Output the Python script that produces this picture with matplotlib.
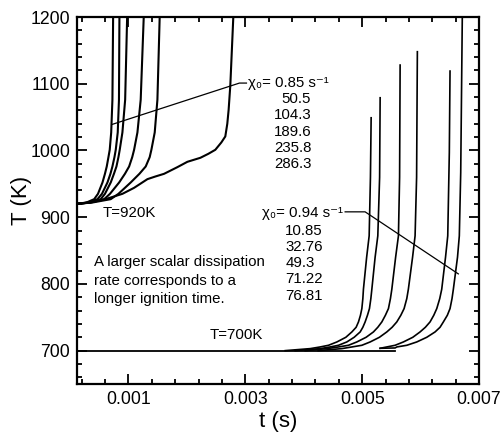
import numpy as np
import matplotlib

matplotlib.use("Agg")
import matplotlib.pyplot as plt
from matplotlib.ticker import FixedLocator, NullFormatter

plt.rcParams["font.family"] = ["Liberation Sans", "DejaVu Sans"]

# T0 = 920 K: ignition histories for chi0 = 0.85, 50.5, 104.3, 189.6, 235.8 1/s
hot_T = [920, 922, 927, 935, 952, 965, 976, 990, 1001, 1027, 1076, 1200]
hot_t_085 = [0.00012, 0.000282, 0.000414, 0.000479, 0.000556, 0.000598, 0.000629, 0.000658, 0.00068,
             0.000705, 0.000726, 0.000738]
hot_t_505 = [0.00012, 0.000316, 0.00047, 0.000547, 0.000641, 0.000692, 0.000726, 0.000761, 0.000783,
             0.000817, 0.000838, 0.000846]
hot_t_1043 = [0.00012, 0.000333, 0.000526, 0.000598, 0.000697, 0.000752, 0.000795, 0.000829, 0.000851,
              0.000897, 0.000944, 0.000978]
hot_t_1896 = [0.00012, 0.00035, 0.000585, 0.000684, 0.000841, 0.00094, 0.001012, 0.001065, 0.001097,
              0.001154, 0.00121, 0.001262]
hot_t_2358 = [0.00012, 0.000385, 0.000697, 0.000829, 0.001039, 0.001188, 0.001296, 0.001364, 0.001393,
              0.00145, 0.001496, 0.001535]
# chi0 = 286.3 1/s, the slow one
slow_t = [0.00012, 0.00035, 0.000607, 0.000897, 0.001097, 0.001325, 0.001462, 0.00161, 0.001838,
          0.002009, 0.002231, 0.002368, 0.002487, 0.00259, 0.002658, 0.002692, 0.002715, 0.002744, 0.002795]
slow_T = [920, 922, 927, 935, 944, 957, 961, 965, 975, 983, 989, 995, 1001, 1012, 1021, 1040, 1061,
          1098, 1200]

# T0 = 700 K: ignition histories for chi0 = 0.94, 10.85, 32.76, 49.3, 71.22, 76.81 1/s
cold_T = [700, 703, 705.5, 708, 713, 720, 728, 735, 743, 753, 763, 778, 792, 840, 872, 960]
cold_t_094 = [0.003684, 0.004111, 0.004282, 0.004424, 0.004568, 0.004721, 0.004824, 0.004897, 0.004937,
              0.004971, 0.004995, 0.005012, 0.005022, 0.005077, 0.00512, 0.005142, 0.005154]
cold_t_1085 = [0.003855, 0.004282, 0.004453, 0.004595, 0.004738, 0.004863, 0.004966, 0.005012, 0.005051,
               0.005091, 0.005125, 0.005149, 0.005166, 0.005222, 0.005268, 0.005299, 0.005308]
cold_t_3276 = [0.004026, 0.004397, 0.004595, 0.004766, 0.004909, 0.005068, 0.005193, 0.005268, 0.005337,
               0.005398, 0.00545, 0.005484, 0.005508, 0.005573, 0.005621, 0.005641, 0.00565]
cold_t_493 = [0.004248, 0.004653, 0.004824, 0.004995, 0.005137, 0.005296, 0.005422, 0.005513, 0.005593,
              0.005662, 0.005718, 0.005764, 0.005791, 0.005863, 0.005906, 0.005932, 0.005945]
cold_top = [1049, 1079, 1128, 1148]
cold_t_7122 = [0.005308, 0.005422, 0.005564, 0.005706, 0.005867, 0.005991, 0.006082, 0.006162, 0.006226,
               0.006277, 0.006328, 0.006362, 0.006427, 0.006465, 0.006492, 0.006504]
cold_T_7122 = [703.5, 705.5, 708, 713, 720, 728, 735, 743, 753, 763, 778, 792, 840, 872, 997, 1119]
cold_t_7681 = [0.005308, 0.005564, 0.005593, 0.005764, 0.005935, 0.006106, 0.006248, 0.006333, 0.00639,
               0.006458, 0.006504, 0.006538, 0.006561, 0.006632, 0.006663, 0.006687, 0.006714]
cold_T_7681 = [703.5, 704, 705.5, 708, 713, 720, 728, 735, 743, 753, 763, 778, 792, 840, 872, 967, 1200]
baseline_t = [0.00012, 0.00557]
baseline_T = [700, 700]

hot_labels = ["50.5", "104.3", "189.6", "235.8", "286.3"]
cold_labels = ["10.85", "32.76", "49.3", "71.22", "76.81"]

fig = plt.figure(figsize=(5.03, 4.33), dpi=100)
ax = fig.add_axes([0.1531, 0.1132, 0.7992, 0.8475])

for t in [hot_t_085, hot_t_505, hot_t_1043, hot_t_1896, hot_t_2358]:
    ax.plot(t, hot_T, color="black", lw=1.5)
ax.plot(slow_t, slow_T, color="black", lw=1.5)

ax.plot(baseline_t, baseline_T, color="black", lw=1.3)
for t, top in zip([cold_t_094, cold_t_1085, cold_t_3276, cold_t_493], cold_top):
    ax.plot(t, cold_T + [top], color="black", lw=1.2)
ax.plot(cold_t_7122, cold_T_7122, color="black", lw=1.2)
ax.plot(cold_t_7681, cold_T_7681, color="black", lw=1.2)

# leader lines from the chi0 labels to the curves
ax.plot([0.00072, 0.0029, 0.00302], [1039, 1101, 1101], color="black", lw=0.9)
ax.plot([0.004709, 0.005051, 0.006646], [908, 908, 815], color="black", lw=0.9)

fs = 10.8
ax.text(0.00304, 1101, "χ₀= 0.85 s⁻¹", fontsize=fs, va="center", ha="left")
for k, lab in enumerate(hot_labels):
    ax.text(0.004128, 1077 - 24.4 * k, lab, fontsize=fs, va="center", ha="right")

ax.text(0.003286, 906, "χ₀= 0.94 s⁻¹", fontsize=fs, va="center", ha="left")
for k, lab in enumerate(cold_labels):
    ax.text(0.003684, 880 - 24.4 * k, lab, fontsize=fs, va="center", ha="left")

ax.text(0.00056, 907, "T=920K", fontsize=fs, va="center", ha="left")
ax.text(0.00239, 723, "T=700K", fontsize=fs, va="center", ha="left")
for k, line in enumerate(["A larger scalar dissipation", "rate corresponds to a", "longer ignition time."]):
    ax.text(0.000419, 832.4 - 27.4 * k, line, fontsize=fs, va="center", ha="left")

ax.set_xlim(0.00012, 0.007)
ax.set_ylim(650, 1200)
ax.xaxis.set_major_locator(FixedLocator([0.001, 0.003, 0.005, 0.007]))
ax.set_xticklabels(["0.001", "0.003", "0.005", "0.007"])
ax.xaxis.set_minor_locator(FixedLocator(np.arange(0.0002, 0.00701, 0.0004)))
ax.yaxis.set_major_locator(FixedLocator(np.arange(700, 1201, 100)))
ax.yaxis.set_minor_locator(FixedLocator(np.arange(660, 1201, 20)))
ax.xaxis.set_minor_formatter(NullFormatter())

ax.tick_params(which="both", direction="in", top=True, right=True, width=1.3, labelsize=12.7)
ax.tick_params(which="major", length=7.5, pad=5)
ax.tick_params(which="minor", length=3.8)
for s in ax.spines.values():
    s.set_linewidth(1.6)

ax.set_xlabel("t (s)", fontsize=16, labelpad=2)
ax.set_ylabel("T (K)", fontsize=16, labelpad=-1)

fig.savefig("out.png", dpi=100)
